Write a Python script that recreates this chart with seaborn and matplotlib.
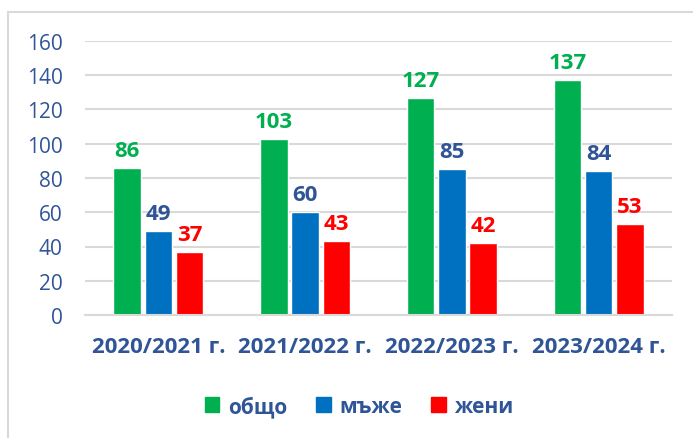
import pandas as pd
import matplotlib.pyplot as plt
import seaborn as sns
from matplotlib.lines import Line2D

# chart values
years = ["2020/2021 г.", "2021/2022 г.", "2022/2023 г.", "2023/2024 г."]
series = ["общо", "мъже", "жени"]
total = [86, 103, 127, 137]
men = [49, 60, 85, 84]
women = [37, 43, 42, 53]

bar_colors = ["#00B050", "#0070C0", "#FF0000"]
label_colors = ["#00B050", "#2F5597", "#FF0000"]
text_blue = "#2F5597"
grid_gray = "#D9D9D9"

df = pd.DataFrame({
    "year": years * 3,
    "series": [series[0]] * 4 + [series[1]] * 4 + [series[2]] * 4,
    "value": total + men + women,
})

sns.set_style("white")
plt.rcParams["font.family"] = ["Open Sans", "DejaVu Sans"]

fig = plt.figure(figsize=(6.93, 4.39), dpi=100)
ax = fig.add_axes([85 / 693, 1 - 316 / 439, 587 / 693, 274 / 439])

sns.barplot(data=df, x="year", y="value", hue="series", order=years,
            hue_order=series, palette=bar_colors, width=0.64, gap=0.12,
            saturation=1, legend=False, ax=ax)

ax.set_ylim(0, 160)
ax.set_yticks(range(0, 161, 20))
ax.set_xlim(-0.5, 3.5)
ax.yaxis.grid(True, color=grid_gray, linewidth=1.5)
ax.set_axisbelow(True)
for s in ["left", "right", "top"]:
    ax.spines[s].set_visible(False)
ax.spines["bottom"].set_color(grid_gray)
ax.spines["bottom"].set_linewidth(1.5)
ax.tick_params(axis="both", length=0)
ax.tick_params(axis="y", pad=16, labelsize=15, labelcolor=text_blue)
ax.tick_params(axis="x", pad=15, labelsize=16, labelcolor=text_blue)
for t in ax.get_xticklabels():
    t.set_fontweight("bold")
ax.set_xlabel("")
ax.set_ylabel("")

# value labels
for cont, col in zip(ax.containers, label_colors):
    ax.bar_label(cont, padding=5, color=col, fontsize=16, fontweight="bold")

# legend at the bottom
handles = [plt.Rectangle((0, 0), 1, 1, color=c) for c in bar_colors]
leg = fig.legend(handles, series, loc="center", bbox_to_anchor=(359 / 693, 1 - 407 / 439),
                 ncol=3, frameon=False, handlelength=0.7, handleheight=0.7,
                 handletextpad=0.4, columnspacing=1.4,
                 prop={"size": 15, "weight": "bold"})
for t in leg.get_texts():
    t.set_color(text_blue)

# chart frame (left and top edges)
fig.add_artist(Line2D([8 / 693, 8 / 693], [0, 1 - 13 / 439], transform=fig.transFigure,
                      color=grid_gray, linewidth=1.5))
fig.add_artist(Line2D([8 / 693, 1], [1 - 13 / 439, 1 - 13 / 439], transform=fig.transFigure,
                      color=grid_gray, linewidth=1.5))

fig.savefig("out.png", dpi=100)
